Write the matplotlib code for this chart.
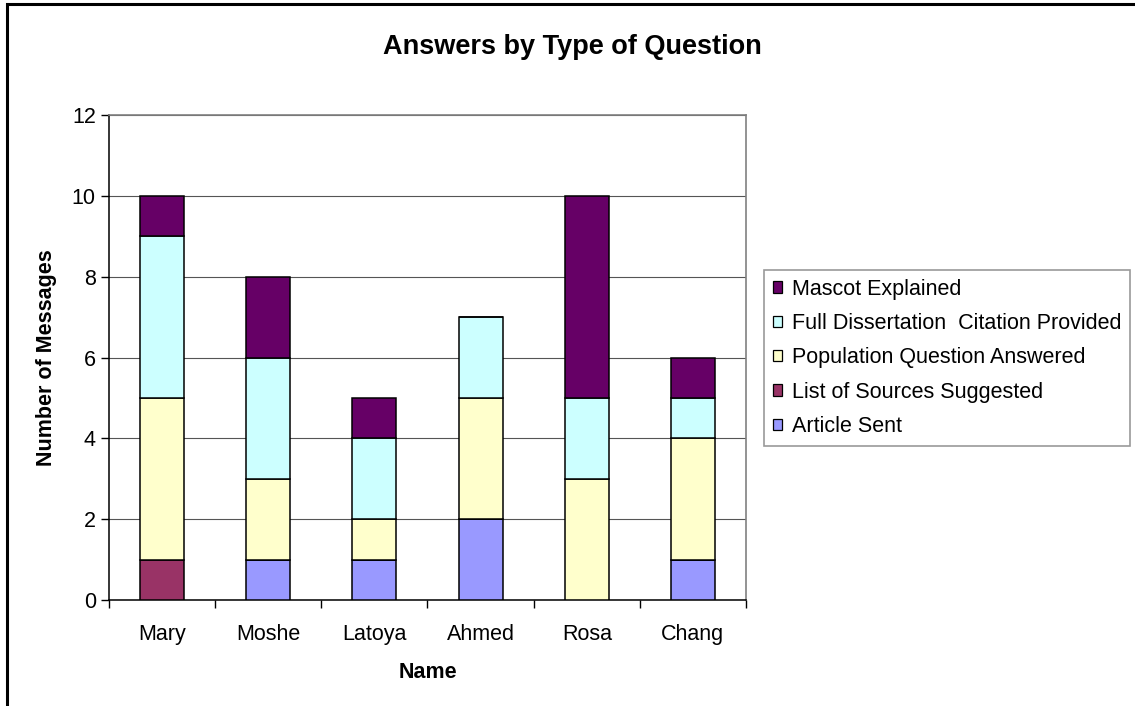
import matplotlib
matplotlib.use('Agg')
import matplotlib.pyplot as plt
import matplotlib.patches as mpatches
import numpy as np

plt.rcParams['font.family'] = ['Liberation Sans', 'DejaVu Sans']

names = ['Mary', 'Moshe', 'Latoya', 'Ahmed', 'Rosa', 'Chang']
article_sent = [0, 1, 1, 2, 0, 1]
list_of_sources = [1, 0, 0, 0, 0, 0]
population_answered = [4, 2, 1, 3, 3, 3]
full_citation = [4, 3, 2, 2, 2, 1]
mascot_explained = [1, 2, 1, 0, 5, 1]

series = [
    ('Article Sent', article_sent, '#9999FF'),
    ('List of Sources Suggested', list_of_sources, '#993366'),
    ('Population Question Answered', population_answered, '#FFFFCC'),
    ('Full Dissertation  Citation Provided', full_citation, '#CCFFFF'),
    ('Mascot Explained', mascot_explained, '#660066'),
]

W, H = 1135, 706
FS = 15.5
fig = plt.figure(figsize=(W / 100, H / 100), dpi=100)

# outer chart frame (runs off the right and bottom edges)
frame = mpatches.Rectangle((7 / W, -0.1), 1.2, 1.1 - 4 / H, transform=fig.transFigure,
                           fill=False, edgecolor='black', linewidth=2.2, clip_on=False)
fig.patches.append(frame)

ax = fig.add_axes([109 / W, (H - 600) / H, (746 - 109) / W, (600 - 115) / H])

x = np.arange(len(names))
bottom = np.zeros(len(names))
handles = []
for label, vals, color in series:
    vals = np.array(vals, dtype=float)
    ax.bar(x, vals, width=0.415, bottom=bottom, color=color, edgecolor='black',
           linewidth=1.1, zorder=3)
    bottom += vals
    handles.append(mpatches.Patch(facecolor=color, edgecolor='black', linewidth=0.9, label=label))

ax.set_xlim(-0.5, len(names) - 0.5)
ax.set_ylim(0, 12)
ax.set_yticks(np.arange(0, 13, 2))
ax.yaxis.grid(True, color='#555555', linewidth=0.8, zorder=0)
ax.set_axisbelow(True)

ax.set_xticks(np.arange(-0.5, len(names), 1))
ax.set_xticklabels([])
ax.set_xticks(x, minor=True)
ax.set_xticklabels(names, minor=True)
ax.tick_params(axis='x', which='major', direction='out', length=6, width=1)
ax.tick_params(axis='x', which='minor', length=0, pad=17, labelsize=FS)
ax.tick_params(axis='y', direction='out', length=6, width=1, labelsize=FS, pad=3.5)

for side in ('top', 'right'):
    ax.spines[side].set_color('#808080')
    ax.spines[side].set_linewidth(1.2)
for side in ('left', 'bottom'):
    ax.spines[side].set_color('black')
    ax.spines[side].set_linewidth(1.1)

ax.set_xlabel('Name', fontsize=FS, fontweight='bold', labelpad=12.5)
ax.set_ylabel('Number of Messages', fontsize=FS, fontweight='bold', labelpad=11)

fig.text(0.504, 1 - 47 / H, 'Answers by Type of Question', ha='center', va='center',
         fontsize=19.5, fontweight='bold')

leg = fig.legend(handles=handles[::-1], loc='upper left',
                 bbox_to_anchor=(764 / W, 1 - 270 / H), fontsize=FS,
                 frameon=True, fancybox=False, shadow=False, borderaxespad=0,
                 handlelength=0.45, handleheight=0.45, handletextpad=0.45,
                 labelspacing=0.62, borderpad=0.4)
leg.get_frame().set_edgecolor('#808080')
leg.get_frame().set_linewidth(1.2)

fig.savefig('out.png', dpi=100)
